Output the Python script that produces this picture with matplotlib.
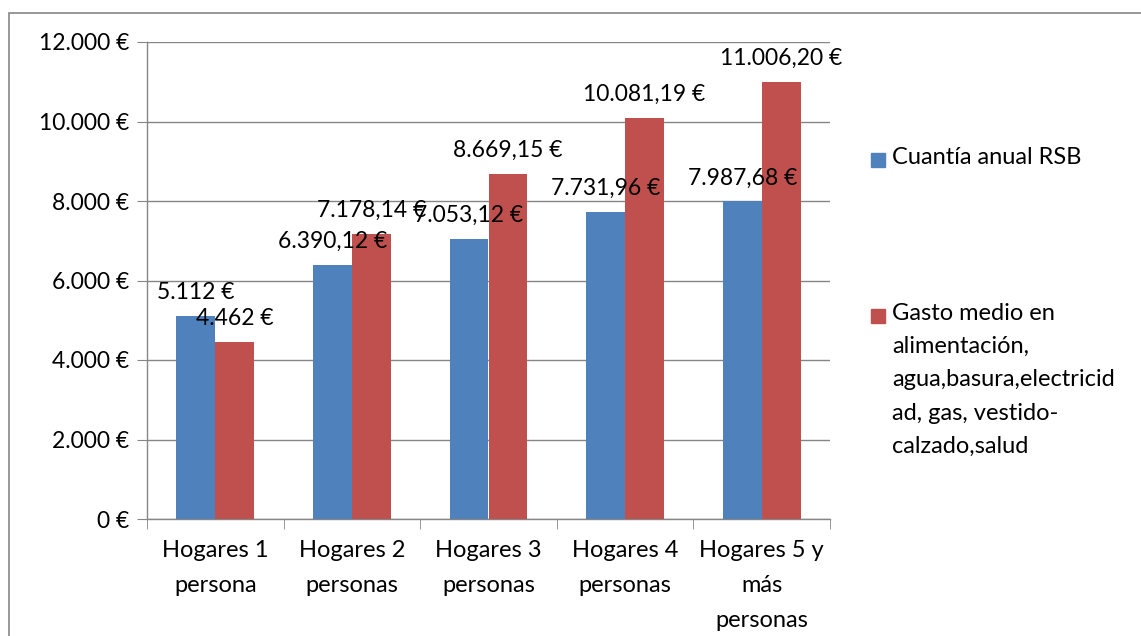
import numpy as np
import matplotlib.pyplot as plt
from matplotlib.patches import Rectangle

# data
categorias = ['Hogares 1\npersona', 'Hogares 2\npersonas', 'Hogares 3\npersonas',
              'Hogares 4\npersonas', 'Hogares 5 y\nmás\npersonas']
rsb = [5112, 6390.12, 7053.12, 7731.96, 7987.68]
gasto = [4462, 7178.14, 8669.15, 10081.19, 11006.20]
etiq_rsb = ['5.112 €', '6.390,12 €', '7.053,12 €', '7.731,96 €', '7.987,68 €']
etiq_gasto = ['4.462 €', '7.178,14 €', '8.669,15 €', '10.081,19 €', '11.006,20 €']
serie_rsb = 'Cuantía anual RSB'
serie_gasto = 'Gasto medio en\nalimentación,\nagua,basura,electricid\nad, gas, vestido-\ncalzado,salud'

azul = '#4F81BD'
rojo = '#C0504D'
gris = '#868686'
fs = 16.5

plt.rcParams['font.family'] = ['Lato', 'DejaVu Sans']

fig = plt.figure(figsize=(11.41, 6.36), dpi=100)
fig.patches.append(Rectangle((9 / 1141, -0.01), 1.0, 1 - 13 / 636 + 0.01,
                             transform=fig.transFigure, fill=False,
                             edgecolor=gris, linewidth=1.2))

ax = fig.add_axes([147 / 1141, 1 - 519 / 636, (830 - 147) / 1141, (519 - 42) / 636])

x = np.arange(len(categorias))
w = 0.285
b1 = ax.bar(x - w / 2, rsb, w, color=azul, label=serie_rsb, zorder=3)
b2 = ax.bar(x + w / 2, gasto, w, color=rojo, label=serie_gasto, zorder=3)

for xi, v, t in zip(x, rsb, etiq_rsb):
    ax.text(xi - w / 2, v + 330, t, ha='center', va='bottom', fontsize=fs, zorder=5)
for xi, v, t in zip(x, gasto, etiq_gasto):
    ax.text(xi + w / 2, v + 330, t, ha='center', va='bottom', fontsize=fs, zorder=5)

ax.set_xlim(-0.5, len(categorias) - 0.5)
ax.set_ylim(0, 12000)
ax.set_yticks(np.arange(0, 12001, 2000))
ax.set_yticklabels([f'{v:,}'.replace(',', '.') + ' €' for v in range(0, 12001, 2000)])
ax.set_xticks(x)
ax.set_xticklabels(categorias, fontsize=17, linespacing=1.82)
ax.set_xticks(np.arange(-0.5, len(categorias)), minor=True)
ax.tick_params(axis='x', which='major', length=0, pad=15)
ax.tick_params(axis='x', which='minor', length=7, color=gris, direction='out')
ax.tick_params(axis='y', length=7, color=gris, labelsize=fs, pad=6)

ax.grid(axis='y', color=gris, linewidth=1, zorder=0)
for s in ['top', 'right']:
    ax.spines[s].set_visible(False)
for s in ['left', 'bottom']:
    ax.spines[s].set_color(gris)
    ax.spines[s].set_linewidth(1)

# legend drawn by hand so the square sits on the first line
leyenda = [(serie_rsb, azul, 160), (serie_gasto, rojo, 316)]
for texto, color, yc in leyenda:
    fig.patches.append(Rectangle((871 / 1141, 1 - (yc + 7) / 636), 14 / 1141, 14 / 636,
                                 transform=fig.transFigure, color=color))
    fig.text(892 / 1141, 1 - (yc - 13) / 636, texto, ha='left', va='top',
             fontsize=17, linespacing=1.72)

fig.savefig('out.png', dpi=100)
